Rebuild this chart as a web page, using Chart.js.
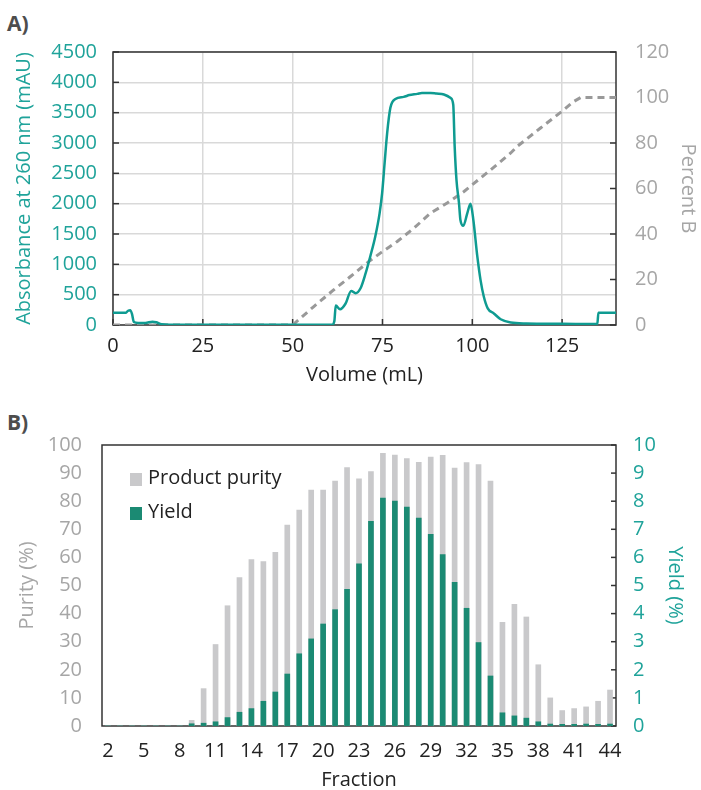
<!DOCTYPE html>
<html>
<head>
<meta charset="utf-8">
<script src="https://cdn.jsdelivr.net/npm/chart.js@4.4.1/dist/chart.umd.min.js"></script>
<style>
  html, body { margin: 0; padding: 0; background: #fff; }
  body { width: 701px; height: 790px; position: relative; overflow: hidden; font-family: "Open Sans", sans-serif; }
  .panel { position: absolute; left: 7px; font-size: 21px; line-height: 21px; font-weight: bold; color: #4d4d4d; }
  canvas { position: absolute; left: 0; }
  .key { position: absolute; left: 130px; width: 12px; height: 13px; }
  .keytext { position: absolute; left: 148px; font-size: 20px; line-height: 24px; color: #222; white-space: nowrap; }
</style>
</head>
<body>
<div class="panel" style="top:13px">A)</div>
<div class="panel" style="top:412px">B)</div>
<canvas id="chartA" width="701" height="395" style="top:0"></canvas>
<canvas id="chartB" width="701" height="395" style="top:395px"></canvas>
<div class="key" style="top:473px; background:#c9c9cb"></div>
<div class="keytext" style="top:465px">Product purity</div>
<div class="key" style="top:507px; background:#1b8a73"></div>
<div class="keytext" style="top:499px">Yield</div>
<script>
// ---- A) chromatogram ----
const absVolume = [0, 3.5, 4.2, 4.8, 5.3, 5.8, 7, 9, 11, 12, 13.5, 16, 30, 45, 61, 61.6, 62, 63.2, 64.7, 66.3, 67.5, 68.9,
  70.3, 71.6, 73, 74.2, 74.9, 75.6, 76.3, 77.2, 78.6, 80.9, 82.5, 84.7, 86, 88.4, 90, 92.1, 94, 94.7, 95.1, 95.6,
  96.3, 96.7, 97.5, 98.6, 99.5, 100.3, 101.4, 102.3, 103.2, 104.3, 106, 107.9, 110.7, 115, 125, 134.8, 135.1, 140];
const absorbance = [200, 200, 235, 245, 180, 50, 35, 35, 55, 45, 12, 5, 3, 3, 5, 60, 320, 260, 350, 560, 525, 605,
  850, 1130, 1460, 1840, 2170, 2670, 3160, 3580, 3725, 3760, 3790, 3810, 3825, 3825, 3815, 3800, 3740, 3630, 2940, 2390,
  2010, 1730, 1635, 1840, 2000, 1730, 1130, 740, 470, 275, 190, 95, 40, 25, 20, 15, 200, 200];

const gradVolume = [0, 50, 55.8, 61.4, 66.1, 71.2, 74.4, 79.1, 83.7, 88.4, 93, 97.7, 102.3, 105.1, 110.7, 112.5, 119, 125.5, 128, 130.2, 140];
const percentB = [0, 0, 8, 15.4, 21.3, 27.9, 31.6, 36.7, 42.5, 49.2, 53.6, 58.7, 64.6, 68.2, 75.6, 78.5, 86.6, 94.6, 98, 100, 100];

// ---- B) fractions ----
const fractions = ['2','3','4','5','6','7','8','9','10','11','12','13','14','15','16','17','18','19','20','21','22','23',
  '24','25','26','27','28','29','30','31','32','33','34','35','36','37','38','39','40','41','42','43','44'];
const purity = [0, 0, 0, 0, 0, 0, 0, 2, 13.3, 29, 42.8, 52.8, 59.2, 58.5, 61.8, 71.5, 76.8, 84, 84, 87.2, 92, 88,
  90.5, 97, 96.4, 95.2, 93.8, 95.7, 96.3, 91.8, 93.7, 93, 87.2, 36.9, 43.3, 38.8, 21.8, 10, 5.5, 6.2, 6.8, 8.8, 12.8];
const yieldPct = [0, 0, 0, 0, 0, 0, 0, 0.08, 0.1, 0.15, 0.3, 0.49, 0.62, 0.88, 1.21, 1.85, 2.57, 3.1, 3.63, 4.14, 4.86, 5.77,
  7.28, 8.11, 8.0, 7.79, 7.4, 6.82, 6.1, 5.11, 4.19, 2.97, 1.78, 0.47, 0.36, 0.28, 0.15, 0.07, 0.06, 0.06, 0.07, 0.06, 0.07];

const TEAL = '#0f9b91';
const TEAL_TEXT = '#1fa39a';
const GREY_TEXT = '#a6a6a6';
const FONT = { family: '"Open Sans", sans-serif', size: 20 };

Chart.defaults.font.family = FONT.family;
Chart.defaults.animation = false;

// frame round the plot area + short inward tick marks
const frameTicks = {
  id: 'frameTicks',
  beforeDatasetsDraw(chart, args, opts) {
    const { ctx, chartArea: a } = chart;
    ctx.save();
    ctx.strokeStyle = '#333';
    ctx.lineWidth = 1.5;
    ctx.strokeRect(a.left, a.top, a.right - a.left, a.bottom - a.top);
    const len = opts.length || 6;
    (opts.scales || []).forEach(id => {
      const s = chart.scales[id];
      s.ticks.forEach(t => {
        const p = s.getPixelForValue(t.value);
        ctx.beginPath();
        if (s.isHorizontal()) {
          ctx.moveTo(p, a.bottom); ctx.lineTo(p, a.bottom - len);
        } else if (s.position === 'left') {
          ctx.moveTo(a.left, p); ctx.lineTo(a.left + len, p);
        } else {
          ctx.moveTo(a.right, p); ctx.lineTo(a.right - len, p);
        }
        ctx.stroke();
      });
    });
    ctx.restore();
  }
};

new Chart(document.getElementById('chartA'), {
  type: 'line',
  data: {
    datasets: [
      {
        label: 'Absorbance',
        data: absVolume.map((v, i) => ({ x: v, y: absorbance[i] })),
        yAxisID: 'y',
        borderColor: TEAL,
        borderWidth: 2.5,
        pointRadius: 0,
        cubicInterpolationMode: 'monotone'
      },
      {
        label: 'Percent B',
        data: gradVolume.map((v, i) => ({ x: v, y: percentB[i] })),
        yAxisID: 'y1',
        borderColor: '#999999',
        borderWidth: 3,
        borderDash: [7, 5],
        pointRadius: 0,
        tension: 0
      }
    ]
  },
  options: {
    responsive: false,
    layout: { padding: { top: 52, left: 0, right: 0, bottom: 0 } },
    plugins: {
      legend: { display: false },
      tooltip: { enabled: false },
      frameTicks: { scales: ['x', 'y', 'y1'], length: 6 }
    },
    scales: {
      x: {
        type: 'linear', min: 0, max: 140,
        ticks: { stepSize: 25, includeBounds: false, color: '#222', font: FONT, padding: 9, maxRotation: 0 },
        grid: { color: '#d9d9d9', lineWidth: 1.5, drawTicks: false },
        border: { display: false },
        title: { display: true, text: 'Volume (mL)', color: '#222', font: FONT, padding: { top: 0, bottom: 8 } },
        afterFit: s => { s.height = 70; }
      },
      y: {
        position: 'left', min: 0, max: 4500,
        ticks: { stepSize: 500, color: TEAL_TEXT, font: FONT, padding: 16, callback: v => String(v) },
        grid: { color: '#d9d9d9', lineWidth: 1.5, drawTicks: false },
        border: { display: false },
        title: { display: true, text: 'Absorbance at 260 nm (mAU)', color: TEAL_TEXT, font: FONT, padding: { top: 12, bottom: 0 } },
        afterFit: s => { s.width = 113; }
      },
      y1: {
        position: 'right', min: 0, max: 120,
        ticks: { stepSize: 20, color: GREY_TEXT, font: FONT, padding: 19 },
        grid: { display: false, drawTicks: false },
        border: { display: false },
        title: { display: true, text: 'Percent B', color: GREY_TEXT, font: FONT, padding: { top: 1, bottom: 0 } },
        afterFit: s => { s.width = 85; }
      }
    }
  },
  plugins: [frameTicks]
});

new Chart(document.getElementById('chartB'), {
  type: 'bar',
  data: {
    labels: fractions,
    datasets: [
      {
        label: 'Product purity',
        data: purity,
        yAxisID: 'y',
        backgroundColor: '#c9c9cb',
        barThickness: 5,
        grouped: false,
        order: 2
      },
      {
        label: 'Yield',
        data: yieldPct,
        yAxisID: 'y1',
        backgroundColor: '#1b8a73',
        barThickness: 5,
        grouped: false,
        order: 1
      }
    ]
  },
  options: {
    responsive: false,
    layout: { padding: { top: 50, left: 0, right: 0, bottom: 0 } },
    plugins: {
      legend: { display: false },
      tooltip: { enabled: false },
      frameTicks: { scales: ['y1'], length: 5 }
    },
    scales: {
      x: {
        type: 'category',
        ticks: {
          color: '#222', font: FONT, padding: 13, autoSkip: false, maxRotation: 0,
          callback: (v, i) => (i % 3 === 0 ? fractions[i] : '')
        },
        grid: { display: false, drawTicks: false },
        border: { display: false },
        title: { display: true, text: 'Fraction', color: '#222', font: { family: FONT.family, size: 20, lineHeight: 1 }, padding: 0 },
        afterFit: s => { s.height = 64; }
      },
      y: {
        position: 'left', min: 0, max: 100,
        ticks: { stepSize: 10, color: GREY_TEXT, font: FONT, padding: 20 },
        grid: { display: false, drawTicks: false },
        border: { display: false },
        title: { display: true, text: 'Purity (%)', color: GREY_TEXT, font: FONT, padding: { top: 15, bottom: 0 } },
        afterFit: s => { s.width = 102; }
      },
      y1: {
        position: 'right', min: 0, max: 10,
        ticks: { stepSize: 1, color: TEAL_TEXT, font: FONT, padding: 17 },
        grid: { display: false, drawTicks: false },
        border: { display: false },
        title: { display: true, text: 'Yield (%)', color: TEAL_TEXT, font: FONT, padding: { top: 14, bottom: 0 } },
        afterFit: s => { s.width = 85; }
      }
    }
  },
  plugins: [frameTicks]
});
</script>
</body>
</html>
